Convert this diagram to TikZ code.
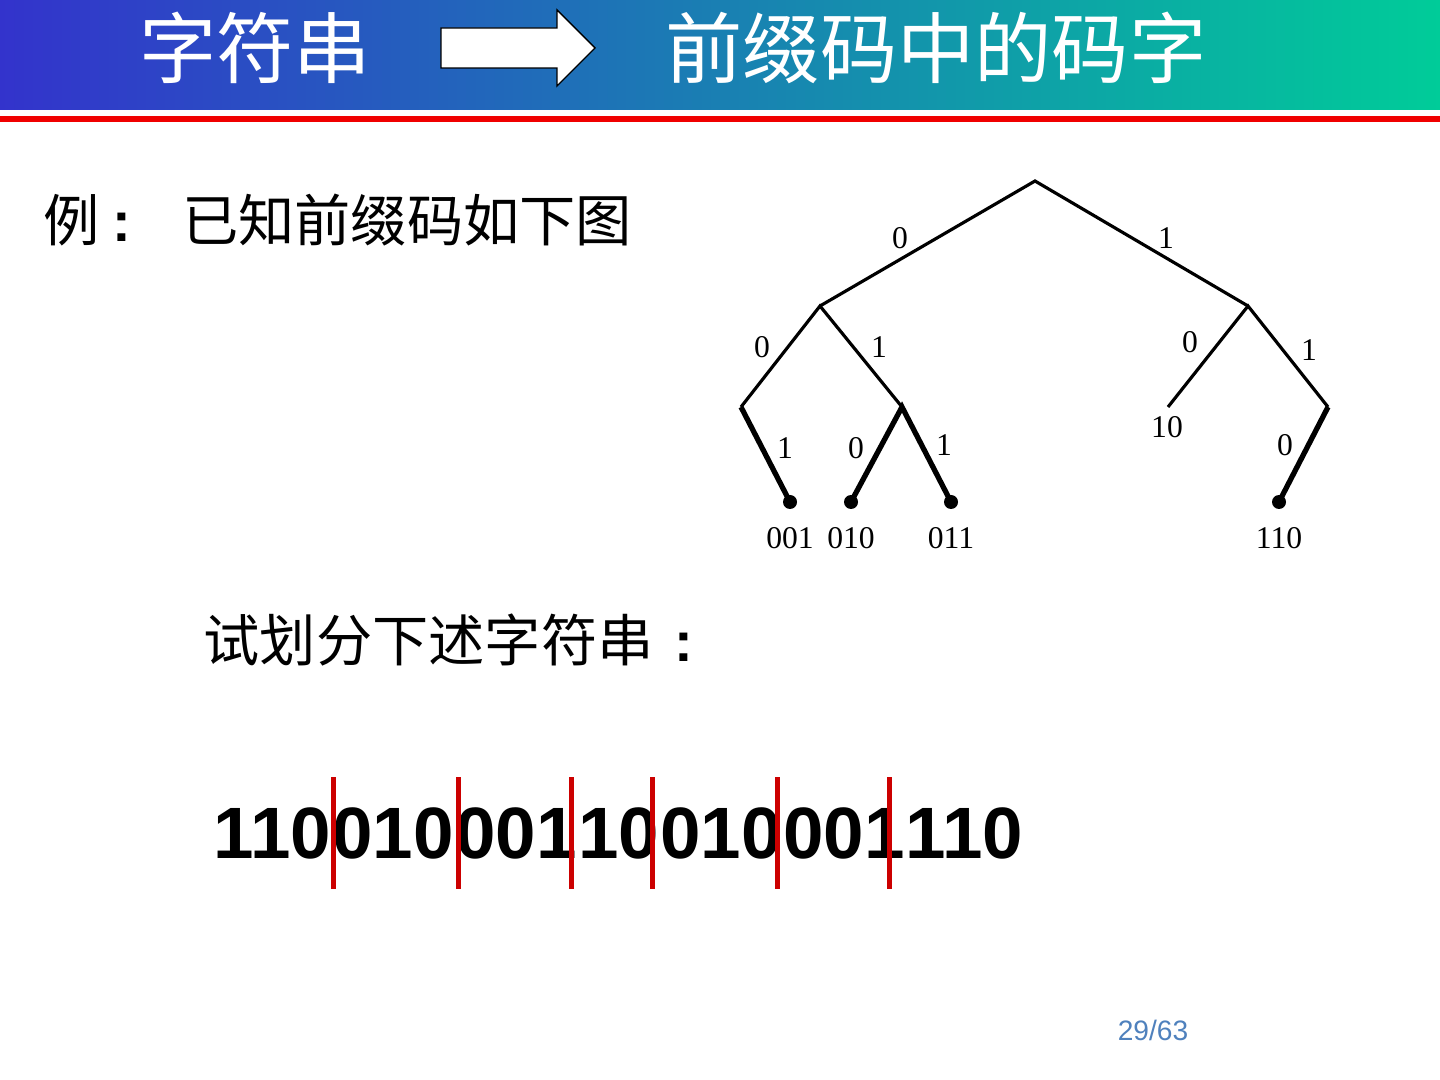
\documentclass[tikz,border=0pt]{standalone}
\usepackage{fontspec}
\setmainfont{Liberation Serif}
\newfontfamily\cjkfont{Noto Sans CJK SC}
\newfontfamily\arialfont{Liberation Sans}
\usepackage{tikz}
\usetikzlibrary{positioning}
\usepackage{xcolor}
\definecolor{barblue}{RGB}{51,51,204}
\definecolor{barteal}{RGB}{0,204,153}
\definecolor{rulered}{RGB}{240,0,0}
\definecolor{cutred}{RGB}{204,0,0}
\definecolor{pageblue}{RGB}{79,129,189}

\begin{document}
\begin{tikzpicture}[
  title/.style={text=white, font=\cjkfont\fontsize{22}{26}\selectfont, inner sep=0pt},
  body/.style={font=\cjkfont\fontsize{16}{20}\selectfont, inner sep=0pt, anchor=west},
  edge/.style={line width=0.9pt},
  leafedge/.style={line width=1.5pt},
  lbl/.style={font=\fontsize{9}{11}\selectfont, inner sep=0pt},
  leaf/.style={circle, fill=black, inner sep=0pt, minimum size=0.14cm},
  code/.style={font=\arialfont\bfseries\fontsize{20.7}{24}\selectfont, inner sep=0pt},
  cut/.style={cutred, line width=1.3pt}
]
\useasboundingbox (0,0) rectangle (14.4,-10.8);
\fill[white] (0,0) rectangle (14.4,-10.8);

% title bar
\shade[left color=barblue, right color=barteal] (0,0) rectangle (14.4,-1.10);
\fill[rulered] (0,-1.16) rectangle (14.4,-1.22);
\node[title] (t1) at (2.55,-0.48) {字符串};
\draw[fill=white, thin] (4.41,-0.28) -- (5.57,-0.28) -- (5.57,-0.10) -- (5.95,-0.48)
  -- (5.57,-0.86) -- (5.57,-0.68) -- (4.41,-0.68) -- cycle;
\node[title] (t2) at (9.36,-0.48) {前缀码中的码字};

% question text
\node[body] (ex) at (0.43,-2.20)
  {例\hspace{0.23em}{\arialfont\bfseries :}\hspace{0.9em}已知前缀码如下图};
\node[body] (ask) at (2.03,-6.40)
  {试划分下述字符串\hspace{0.37em}{\arialfont\bfseries :}};

% tree: inner points
\coordinate (root) at (10.35,-1.81);
\coordinate (l)  at (8.20,-3.06);
\coordinate (r)  at (12.48,-3.06);
\coordinate (ll) at (7.41,-4.07);
\coordinate (lr) at (9.02,-4.07);
\coordinate (rl) at (11.68,-4.07);
\coordinate (rr) at (13.28,-4.07);

% tree: leaves
\node[leaf] (a001) at (7.90,-5.02) {};
\node[leaf] (a010) at (8.51,-5.02) {};
\node[leaf] (a011) at (9.51,-5.02) {};
\node[leaf] (a110) at (12.79,-5.02) {};

% edges
\draw[edge] (l) -- (root) -- (r);
\draw[edge] (ll) -- (l) -- (lr);
\draw[edge] (rl) -- (r) -- (rr);
\draw[leafedge] (ll) -- (a001.center);
\draw[leafedge] (a010.center) -- (lr) -- (a011.center);
\draw[leafedge] (rr) -- (a110.center);

% edge labels
\node[lbl] (b1) at (9.00,-2.38) {0};
\node[lbl] (b2) at (11.66,-2.38) {1};
\node[lbl] (b3) at (7.62,-3.47) {0};
\node[lbl] (b4) at (8.79,-3.47) {1};
\node[lbl] (b5) at (11.90,-3.42) {0};
\node[lbl] (b6) at (13.09,-3.50) {1};
\node[lbl] (b7) at (7.85,-4.48) {1};
\node[lbl] (b8) at (8.56,-4.48) {0};
\node[lbl] (b9) at (9.44,-4.45) {1};
\node[lbl] (b10) at (12.85,-4.45) {0};

% codewords
\node[lbl] (w10) at (11.67,-4.27) {10};
\node[lbl, below=0.17cm of a001] (w001) {001};
\node[lbl, below=0.17cm of a010] (w010) {010};
\node[lbl, below=0.17cm of a011] (w011) {011};
\node[lbl, below=0.17cm of a110] (w110) {110};

% string split into codewords
\node[code, anchor=west] (c1) at (2.13,-8.33) {110};
\node[code, right=0pt of c1] (c2) {010};
\node[code, right=0pt of c2] (c3) {001};
\node[code, right=0pt of c3] (c4) {10};
\node[code, right=0pt of c4] (c5) {010};
\node[code, right=0pt of c5] (c6) {001};
\node[code, right=0pt of c6] (c7) {110};
\foreach \i/\dx in {1/0.02, 2/0.04, 3/-0.06, 4/-0.07, 5/-0.05, 6/-0.16}
  \draw[cut] ([xshift=\dx cm, yshift=0.56cm]c\i.east) -- ([xshift=\dx cm, yshift=-0.56cm]c\i.east);

% page number
\node[font=\arialfont\fontsize{8}{10}\selectfont, text=pageblue] (pg) at (11.53,-10.30) {29/63};

\end{tikzpicture}
\end{document}
